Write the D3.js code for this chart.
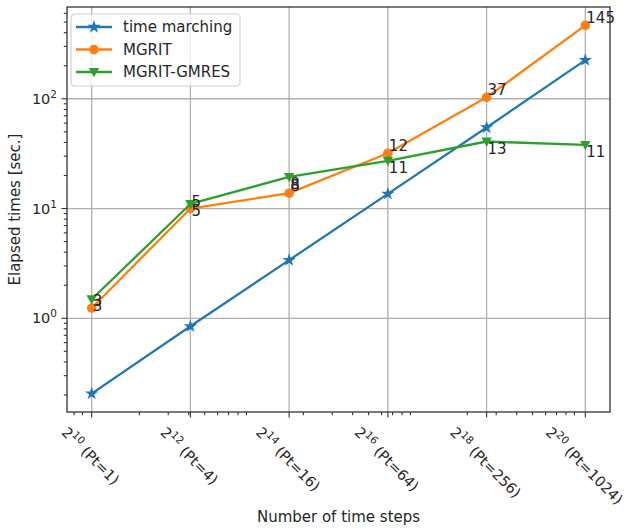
<!DOCTYPE html>
<html>
<head>
<meta charset="utf-8">
<script src="https://cdn.jsdelivr.net/npm/d3@7/dist/d3.min.js"></script>
<style>
  html, body { margin: 0; padding: 0; background: #fff; }
  svg { display: block; font-family: "DejaVu Sans", sans-serif; }
</style>
</head>
<body>
<svg id="chart" width="629" height="528"></svg>
<script>
// Number of time steps, as powers of two, and the matching processor counts
const stepExponents = [10, 12, 14, 16, 18, 20];
const ptCounts = [1, 4, 16, 64, 256, 1024];

// Elapsed times in seconds
const timeMarching = [0.206, 0.845, 3.39, 13.6, 54.7, 225];
const mgrit = [1.24, 10.0, 13.8, 31.9, 103, 466];
const mgritGmres = [1.49, 11.0, 19.4, 27.2, 40.8, 38.0];

// Iteration counts written next to the points
const mgritIters = [3, 5, 8, 12, 37, 145];
const gmresIters = [3, 5, 8, 11, 13, 11];

// Y-axis decade ticks
const yTickExponents = [0, 1, 2];

const colors = { blue: "#1f77b4", orange: "#ff7f0e", green: "#2ca02c" };
const textColor = "#262626";
const fontSize = 15;
const tickFontSize = 14.5;

const svg = d3.select("#chart");
const plot = { left: 67, right: 610, top: 7, bottom: 412 };

const steps = stepExponents.map(e => Math.pow(2, e));

// log-scale domains padded by 5% of the log range, on both axes
function paddedLogDomain(vals) {
  const lo = Math.log10(d3.min(vals)), hi = Math.log10(d3.max(vals));
  const pad = (hi - lo) * 0.05;
  return [Math.pow(10, lo - pad), Math.pow(10, hi + pad)];
}
const x = d3.scaleLog().base(2).domain(paddedLogDomain(steps)).range([plot.left, plot.right]);
const y = d3.scaleLog().domain(paddedLogDomain(timeMarching.concat(mgrit, mgritGmres))).range([plot.bottom, plot.top]);

// grid lines
const grid = svg.append("g").attr("stroke", "#b0b0b0").attr("stroke-width", 1.3);
steps.forEach(s => grid.append("line")
  .attr("x1", x(s)).attr("x2", x(s)).attr("y1", plot.top).attr("y2", plot.bottom));
yTickExponents.forEach(e => grid.append("line")
  .attr("x1", plot.left).attr("x2", plot.right).attr("y1", y(Math.pow(10, e))).attr("y2", y(Math.pow(10, e))));

// minor ticks (log10 subdivisions) on both axes
function minorTicks(domain) {
  const out = [];
  const [a, b] = domain;
  for (let p = Math.floor(Math.log10(a)); p <= Math.ceil(Math.log10(b)); p++) {
    for (let k = 2; k <= 9; k++) {
      const v = k * Math.pow(10, p);
      if (v >= a && v <= b) out.push(v);
    }
  }
  return out;
}
const tickColor = "#333";
const ticks = svg.append("g").attr("stroke", tickColor).attr("stroke-width", 1.1);
minorTicks(x.domain()).forEach(v => ticks.append("line")
  .attr("x1", x(v)).attr("x2", x(v)).attr("y1", plot.bottom).attr("y2", plot.bottom + 3.2));
minorTicks(y.domain()).forEach(v => ticks.append("line")
  .attr("y1", y(v)).attr("y2", y(v)).attr("x1", plot.left).attr("x2", plot.left - 3.2));
steps.forEach(s => ticks.append("line")
  .attr("x1", x(s)).attr("x2", x(s)).attr("y1", plot.bottom).attr("y2", plot.bottom + 5.5));
yTickExponents.forEach(e => ticks.append("line")
  .attr("y1", y(Math.pow(10, e))).attr("y2", y(Math.pow(10, e))).attr("x1", plot.left).attr("x2", plot.left - 5.5));

// y tick labels: 10^n
yTickExponents.forEach(e => {
  const t = svg.append("text")
    .attr("x", plot.left - 10).attr("y", y(Math.pow(10, e)) + 5)
    .attr("text-anchor", "end").attr("fill", textColor).attr("font-size", tickFontSize);
  t.append("tspan").text("10");
  t.append("tspan").attr("font-size", tickFontSize * 0.72).attr("dy", -6).text(e);
});

// x tick labels: 2^n (Pt=k), rotated 45 degrees, centred under each tick
steps.forEach((s, i) => {
  const outer = svg.append("g").attr("transform", `translate(${x(s)},${plot.bottom + 10})`);
  const inner = outer.append("g");
  const t = inner.append("text").attr("transform", "rotate(45)")
    .attr("fill", textColor).attr("font-size", tickFontSize);
  t.append("tspan").text("2");
  t.append("tspan").attr("font-size", tickFontSize * 0.72).attr("dy", -6).text(stepExponents[i]);
  t.append("tspan").attr("dy", 6).text(` (Pt=${ptCounts[i]})`);
  const bb = inner.node().getBBox();
  inner.attr("transform", `translate(${-bb.x - bb.width / 2},${-bb.y})`);
});

// axis titles
svg.append("text").attr("x", (plot.left + plot.right) / 2).attr("y", 522)
  .attr("text-anchor", "middle").attr("fill", textColor).attr("font-size", fontSize)
  .text("Number of time steps");
svg.append("text")
  .attr("transform", `translate(20,${(plot.top + plot.bottom) / 2}) rotate(-90)`)
  .attr("text-anchor", "middle").attr("fill", textColor).attr("font-size", fontSize)
  .text("Elapsed times [sec.]");

// marker shapes
const starPath = d3.symbol().type(d3.symbolStar).size(55)();
const circlePath = d3.symbol().type(d3.symbolCircle).size(72)();
const triPath = "M-5.2,-4 L5.2,-4 L0,5.2 Z";

const series = [
  { name: "time marching", values: timeMarching, color: colors.blue, marker: starPath },
  { name: "MGRIT", values: mgrit, color: colors.orange, marker: circlePath },
  { name: "MGRIT-GMRES", values: mgritGmres, color: colors.green, marker: triPath }
];

const line = d3.line().x((d, i) => x(steps[i])).y(d => y(d));
series.forEach(sr => {
  svg.append("path").datum(sr.values).attr("d", line)
    .attr("fill", "none").attr("stroke", sr.color).attr("stroke-width", 2.3)
    .attr("stroke-linejoin", "round");
  svg.selectAll(null).data(sr.values).enter().append("path")
    .attr("d", sr.marker).attr("fill", sr.color)
    .attr("transform", (d, i) => `translate(${x(steps[i])},${y(d)})`);
});

// iteration counts: MGRIT above its points, MGRIT-GMRES below
const labels = svg.append("g").attr("fill", textColor).attr("font-size", fontSize);
mgrit.forEach((v, i) => labels.append("text")
  .attr("x", x(steps[i]) + 1).attr("y", y(v) - 2).text(mgritIters[i]));
mgritGmres.forEach((v, i) => labels.append("text")
  .attr("x", x(steps[i]) + 1).attr("y", y(v) + 12).text(gmresIters[i]));

// frame
svg.append("rect").attr("x", plot.left).attr("y", plot.top)
  .attr("width", plot.right - plot.left).attr("height", plot.bottom - plot.top)
  .attr("fill", "none").attr("stroke", "#333").attr("stroke-width", 1.3);

// legend
const lg = svg.append("g").attr("transform", "translate(71,14)");
lg.append("rect").attr("width", 169).attr("height", 72).attr("rx", 4)
  .attr("fill", "#fff").attr("fill-opacity", 0.8).attr("stroke", "#d0d0d0").attr("stroke-width", 1.2);
series.forEach((sr, i) => {
  const yy = 13 + i * 22.5;
  lg.append("line").attr("x1", 5).attr("x2", 41).attr("y1", yy).attr("y2", yy)
    .attr("stroke", sr.color).attr("stroke-width", 2.3);
  lg.append("path").attr("d", sr.marker).attr("fill", sr.color)
    .attr("transform", `translate(23,${yy})`);
  lg.append("text").attr("x", 52).attr("y", yy + 5).attr("fill", textColor)
    .attr("font-size", fontSize).text(sr.name);
});
</script>
</body>
</html>
